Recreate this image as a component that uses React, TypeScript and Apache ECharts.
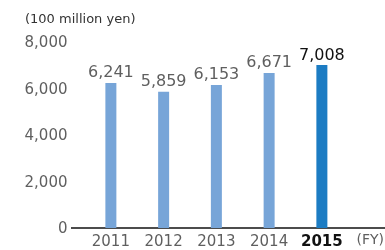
import React, { useEffect, useRef } from "react";
import * as echarts from "echarts";

const categories = ["2011", "2012", "2013", "2014", "2015"];
const values: number[] = [6241, 5859, 6153, 6671, 7008];
const highlightCategory = "2015";
const yTicks = { min: 0, max: 8000, interval: 2000 };
const unitLabel = "(100 million yen)";
const xUnitLabel = "(FY)";

const FONT = "DejaVu Sans";
const GRAY = "#5f5f5f";
const DARK = "#111111";
const LIGHT_BAR = "#77a5d8";
const DARK_BAR = "#1c7cc3";

export default function App() {
  const ref = useRef<HTMLDivElement>(null);
  useEffect(() => {
    if (!ref.current) return;
    const chart = echarts.init(ref.current, undefined, { renderer: "svg" });
    const data = values.map((v, i) => {
      const hi = categories[i] === highlightCategory;
      return {
        value: v,
        itemStyle: { color: hi ? DARK_BAR : LIGHT_BAR },
        label: { color: hi ? DARK : GRAY },
      };
    });
    chart.setOption({
      animation: false,
      textStyle: { fontFamily: FONT },
      grid: {
        left: 84.5,
        width: 263.75,
        top: 42,
        height: 186,
        containLabel: false,
        outerBoundsMode: "none",
      },
      graphic: [
        {
          type: "text",
          left: 25,
          top: 12,
          style: { text: unitLabel, fill: "#333", font: `13px ${FONT}` },
        },
        {
          type: "text",
          right: 1,
          top: 232,
          style: { text: xUnitLabel, fill: GRAY, font: `14px ${FONT}` },
        },
        {
          type: "line",
          shape: { x1: 71, y1: 228, x2: 385, y2: 228 },
          style: { stroke: "#111", lineWidth: 1.5 },
          silent: true,
        },
      ],
      xAxis: {
        type: "category",
        data: categories,
        axisLine: { show: false },
        axisTick: { show: false },
        axisLabel: {
          interval: 0,
          margin: 5,
          fontSize: 15,
          color: GRAY,
          fontFamily: FONT,
          formatter: (v: string) => (v === highlightCategory ? `{b|${v}}` : v),
          rich: { b: { fontSize: 15, fontWeight: "bold", color: DARK, fontFamily: FONT } },
        },
      },
      yAxis: {
        type: "value",
        min: yTicks.min,
        max: yTicks.max,
        interval: yTicks.interval,
        splitLine: { show: false },
        axisLine: { show: false },
        axisTick: { show: false },
        axisLabel: {
          margin: 17,
          fontSize: 15,
          color: GRAY,
          fontFamily: FONT,
          formatter: (v: number) => v.toLocaleString("en-US"),
        },
      },
      series: [
        {
          type: "bar",
          data,
          barWidth: 11,
          label: {
            show: true,
            position: "top",
            distance: 3,
            fontSize: 16,
            fontFamily: FONT,
            formatter: (p: any) => Number(p.value).toLocaleString("en-US"),
          },
        },
      ],
    });
    return () => chart.dispose();
  }, []);
  return (
    <div
      ref={ref}
      style={{ position: "fixed", left: 0, top: 0, width: 385, height: 250 }}
    />
  );
}
